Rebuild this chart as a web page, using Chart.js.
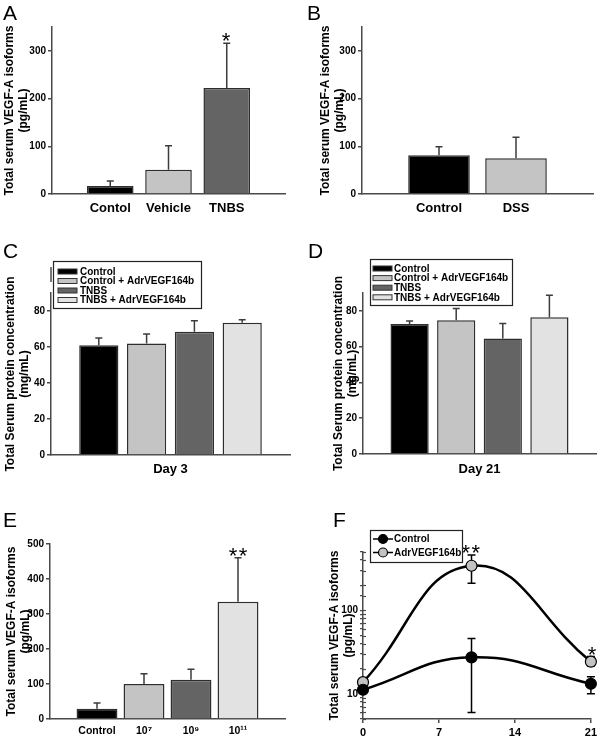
<!DOCTYPE html>
<html><head><meta charset="utf-8">
<script src="https://cdn.jsdelivr.net/npm/chart.js@4.4.1/dist/chart.umd.min.js"></script>
<style>
html,body{margin:0;padding:0;background:#fff;}
#wrap{position:relative;width:600px;height:738px;overflow:hidden;background:#fff;}
canvas{position:absolute;left:0;top:0;}
.lbl{position:absolute;font:21px "Liberation Sans",Arial,Helvetica,sans-serif;color:#000;line-height:21px;}
</style></head><body>
<div id="wrap">
<canvas id="cA" width="600" height="738"></canvas>
<canvas id="cB" width="600" height="738"></canvas>
<canvas id="cC" width="600" height="738"></canvas>
<canvas id="cD" width="600" height="738"></canvas>
<canvas id="cE" width="600" height="738"></canvas>
<canvas id="cF" width="600" height="738"></canvas>
<div class="lbl" style="left:3px;top:2px">A</div>
<div class="lbl" style="left:307px;top:2px">B</div>
<div class="lbl" style="left:3px;top:240px">C</div>
<div class="lbl" style="left:308px;top:240px">D</div>
<div class="lbl" style="left:3px;top:509px">E</div>
<div class="lbl" style="left:333px;top:509px">F</div>
</div>
<script>
// ---------------- DATA ----------------
// Panel A
const A_categories = ['Contol', 'Vehicle', 'TNBS'];
const A_values = [17, 51, 222];
const A_errors = [10, 50, 94];
const A_signif = ['', '', '*'];
const A_yTicks = [0, 100, 200, 300];
// Panel B
const B_categories = ['Control', 'DSS'];
const B_values = [81, 75];
const B_errors = [18, 44];
const B_yTicks = [0, 100, 200, 300];
// Panel C (Day 3)
const C_groups = ['Control', 'Control + AdrVEGF164b', 'TNBS', 'TNBS + AdrVEGF164b'];
const C_values = [61, 62, 68.5, 73.5];
const C_errors = [4, 5.2, 6.1, 1.7];
const C_yTicks = [0, 20, 40, 60, 80];
// Panel D (Day 21)
const D_groups = ['Control', 'Control + AdrVEGF164b', 'TNBS', 'TNBS + AdrVEGF164b'];
const D_values = [72.7, 74.8, 64.6, 76.5];
const D_errors = [1.7, 6.5, 8.3, 12.2];
const D_yTicks = [0, 20, 40, 60, 80];
// Panel E
const E_categories = ['Control', '10\u2077', '10\u2079', '10\u00B9\u00B9'];
const E_values = [29, 100, 112, 335];
const E_errors = [17, 29, 30, 126];
const E_signif = ['', '', '', '**'];
const E_yTicks = [0, 100, 200, 300, 400, 500];
// Panel F
const F_days = [0, 10, 21];
const F_series = ['Control', 'AdrVEGF164b'];
const F_control = [11.2, 27.4, 13.2];
const F_control_low = [null, 6, 10];
const F_control_high = [null, 46, 16];
const F_adr = [13.8, 342, 24.3];
const F_adr_low = [null, 211, 21.5];
const F_adr_high = [null, 460, 28];
const F_adr_signif = ['', '**', '*'];
const F_xTicks = [0, 7, 14, 21];
const F_yLabels = [10, 100];

// ---------------- STYLE ----------------
const FF = '"Liberation Sans", Arial, Helvetica, sans-serif';
const AX = '#4a4a4a';
const BLACK = '#000000', LGRAY = '#c4c4c4', DGRAY = '#646464', XLGRAY = '#e2e2e2';
Chart.defaults.font.family = FF;
const VEGF_TITLE = ['Total serum VEGF-A isoforms', '(pg/mL)'];
const PROT_TITLE = ['Total Serum protein concentration', '(mg/mL)'];

function barErrorPlugin(cfg) {
  return {
    id: 'barErr',
    afterDatasetsDraw(chart) {
      const ctx = chart.ctx, ys = chart.scales.y, meta = chart.getDatasetMeta(0);
      ctx.save();
      ctx.strokeStyle = '#3c3c3c'; ctx.lineWidth = 1.5;
      cfg.values.forEach((v, i) => {
        const el = meta.data[i + 1]; if (!el) return;
        const top = ys.getPixelForValue(v + cfg.errors[i]);
        const x = el.x;
        ctx.beginPath();
        ctx.moveTo(x, el.y); ctx.lineTo(x, top);
        ctx.moveTo(x - 3.5, top); ctx.lineTo(x + 3.5, top);
        ctx.stroke();
        const s = cfg.signif && cfg.signif[i];
        if (s) {
          ctx.fillStyle = '#000'; ctx.font = '22px ' + FF;
          ctx.textAlign = 'center'; ctx.textBaseline = 'alphabetic';
          try { ctx.letterSpacing = '1.5px'; } catch (e) {}
          ctx.fillText(s, x + (s.length > 1 ? 0.75 : 0), top + 5);
        }
      });
      if (cfg.axisBreak) {
        const x = chart.chartArea.left;
        ctx.strokeStyle = AX; ctx.lineWidth = 1.5;
        ctx.beginPath(); ctx.moveTo(x, chart.chartArea.top - 26); ctx.lineTo(x, chart.chartArea.top - 11); ctx.stroke();
      }
      ctx.restore();
    }
  };
}

function boxLegendPlugin(L) {
  return {
    id: 'boxLegend',
    afterDraw(chart) {
      const ctx = chart.ctx;
      ctx.save();
      ctx.fillStyle = '#fff'; ctx.fillRect(L.x, L.y, L.w, L.h);
      ctx.strokeStyle = '#222'; ctx.lineWidth = 1.2; ctx.strokeRect(L.x + 0.5, L.y + 0.5, L.w, L.h);
      ctx.font = 'bold ' + L.size + 'px ' + FF; ctx.textBaseline = 'middle'; ctx.textAlign = 'left';
      L.items.forEach((it, i) => {
        const cy = L.y + L.first + i * L.row;
        if (L.kind === 'bar') {
          ctx.fillStyle = it.color; ctx.fillRect(L.x + L.sx, cy - 2.5, L.sw, 5);
          ctx.strokeStyle = '#333'; ctx.lineWidth = 1; ctx.strokeRect(L.x + L.sx, cy - 2.5, L.sw, 5);
        } else {
          ctx.strokeStyle = '#000'; ctx.lineWidth = 1.5;
          ctx.beginPath(); ctx.moveTo(L.x + L.sx, cy); ctx.lineTo(L.x + L.sx + L.sw, cy); ctx.stroke();
          ctx.beginPath(); ctx.arc(L.x + L.sx + L.sw / 2, cy, 4.5, 0, Math.PI * 2);
          ctx.fillStyle = it.color; ctx.fill(); ctx.lineWidth = 1.2; ctx.stroke();
        }
        ctx.fillStyle = '#000'; ctx.fillText(it.label, L.x + L.tx, cy + 0.5);
      });
      ctx.restore();
    }
  };
}

function barPanel(id, cfg) {
  const labels = ['', ...cfg.labels, ''];
  const data = [null, ...cfg.values, null];
  const colors = ['rgba(0,0,0,0)', ...cfg.colors, 'rgba(0,0,0,0)'];
  const plugins = [barErrorPlugin(cfg)];
  if (cfg.legend) plugins.push(boxLegendPlugin(cfg.legend));
  return new Chart(document.getElementById(id), {
    type: 'bar',
    data: { labels, datasets: [{ data, backgroundColor: colors, borderColor: '#2e2e2e', borderWidth: 1.5,
      categoryPercentage: 1, barPercentage: cfg.barPct }] },
    options: {
      responsive: false, maintainAspectRatio: false, animation: false, devicePixelRatio: 1, events: [],
      layout: { padding: { left: cfg.scaleLeft, top: cfg.area.t, right: 600 - cfg.area.r, bottom: 738 - cfg.area.b - cfg.xH } },
      plugins: { legend: { display: false }, tooltip: { enabled: false } },
      scales: {
        x: {
          type: 'category', offset: false,
          grid: { display: false, drawTicks: false },
          border: { display: true, color: AX, width: 1.5 },
          ticks: { display: cfg.showLabels, autoSkip: false, maxRotation: 0, minRotation: 0, padding: cfg.xPad,
            color: '#000', font: { family: FF, weight: 'bold', size: cfg.catSize } },
          title: cfg.xTitle ? { display: true, text: cfg.xTitle, color: '#000',
            font: { family: FF, weight: 'bold', size: 13 }, padding: { top: 0, bottom: 0 } } : { display: false },
          afterFit: s => { s.height = cfg.xH; }
        },
        y: {
          type: 'linear', min: 0, max: cfg.yMax,
          afterBuildTicks: s => { s.ticks = cfg.yTicks.map(v => ({ value: v })); },
          ticks: { padding: 2, color: '#000', font: { family: FF, weight: 'bold', size: 10 } },
          grid: { drawOnChartArea: false, drawTicks: true, tickLength: 4, color: AX, lineWidth: 1.5 },
          border: { display: true, color: AX, width: 1.5 },
          title: { display: true, text: cfg.yTitle, color: '#000',
            font: { family: FF, weight: 'bold', size: 12, lineHeight: '14.5px' }, padding: { top: cfg.titlePad, bottom: 0 } },
          afterFit: s => { s.width = cfg.area.l - cfg.scaleLeft; }
        }
      }
    },
    plugins
  });
}

// Panel A
barPanel('cA', { labels: A_categories, values: A_values, errors: A_errors, signif: A_signif,
  colors: [BLACK, LGRAY, DGRAY], yMax: 350, yTicks: A_yTicks, yTitle: VEGF_TITLE,
  area: { l: 52, t: 27, r: 285, b: 194 }, scaleLeft: 0, titlePad: 2, xH: 40, xPad: 7, catSize: 13,
  showLabels: true, barPct: 0.8 });
// Panel B
barPanel('cB', { labels: B_categories, values: B_values, errors: B_errors,
  colors: [BLACK, LGRAY], yMax: 350, yTicks: B_yTicks, yTitle: VEGF_TITLE,
  area: { l: 362, t: 27, r: 597, b: 194 }, scaleLeft: 310, titlePad: 8, xH: 40, xPad: 7, catSize: 13,
  showLabels: true, barPct: 0.8 });
// Panel C
barPanel('cC', { labels: C_groups, values: C_values, errors: C_errors,
  colors: [BLACK, LGRAY, DGRAY, XLGRAY], yMax: 90, yTicks: C_yTicks, yTitle: PROT_TITLE, xTitle: 'Day 3',
  area: { l: 51, t: 293, r: 290, b: 455 }, scaleLeft: 0, titlePad: 3, xH: 22, xPad: 0, catSize: 11,
  showLabels: false, barPct: 0.82, axisBreak: true,
  legend: { x: 53, y: 261, w: 148, h: 47, first: 10.5, row: 9.5, sx: 5, sw: 19, tx: 27, size: 10, kind: 'bar',
    items: C_groups.map((g, i) => ({ label: g, color: [BLACK, LGRAY, DGRAY, XLGRAY][i] })) } });
// Panel D
barPanel('cD', { labels: D_groups, values: D_values, errors: D_errors,
  colors: [BLACK, LGRAY, DGRAY, XLGRAY], yMax: 90, yTicks: D_yTicks, yTitle: PROT_TITLE, xTitle: 'Day 21',
  area: { l: 363, t: 293, r: 596, b: 454 }, scaleLeft: 310, titlePad: 21, xH: 23, xPad: 0, catSize: 11,
  showLabels: false, barPct: 0.82,
  legend: { x: 370, y: 259, w: 142, h: 46, first: 9.5, row: 9.6, sx: 3, sw: 19, tx: 24, size: 10, kind: 'bar',
    items: D_groups.map((g, i) => ({ label: g, color: [BLACK, LGRAY, DGRAY, XLGRAY][i] })) } });
// Panel E
barPanel('cE', { labels: E_categories, values: E_values, errors: E_errors, signif: E_signif,
  colors: [BLACK, LGRAY, DGRAY, XLGRAY], yMax: 500, yTicks: E_yTicks, yTitle: VEGF_TITLE,
  area: { l: 50, t: 544, r: 285, b: 719 }, scaleLeft: 0, titlePad: 4, xH: 19, xPad: 6, catSize: 10.5,
  showLabels: true, barPct: 0.87 });

// Panel F
function lineErrorPlugin(sets) {
  return {
    id: 'lineErr',
    beforeDatasetsDraw(chart) {
      const ctx = chart.ctx, ys = chart.scales.y;
      ctx.save(); ctx.strokeStyle = '#000'; ctx.lineWidth = 1.5;
      sets.forEach(st => {
        const meta = chart.getDatasetMeta(st.ds);
        st.low.forEach((lo, i) => {
          const hi = st.high[i]; if (lo == null || hi == null) return;
          const x = meta.data[i].x, y1 = ys.getPixelForValue(lo), y2 = ys.getPixelForValue(hi);
          ctx.beginPath();
          ctx.moveTo(x, y1); ctx.lineTo(x, y2);
          ctx.moveTo(x - 4, y1); ctx.lineTo(x + 4, y1);
          ctx.moveTo(x - 4, y2); ctx.lineTo(x + 4, y2);
          ctx.stroke();
        });
      });
      // inner halves of the y-axis tick marks (ticks cross the axis)
      ctx.strokeStyle = AX; ctx.lineWidth = 1.2;
      const left = chart.chartArea.left;
      ys.ticks.forEach(t => {
        const y = Math.round(ys.getPixelForValue(t.value)) + 0.5;
        ctx.beginPath(); ctx.moveTo(left, y); ctx.lineTo(left + 3, y); ctx.stroke();
      });
      ctx.restore();
    },
    afterDatasetsDraw(chart) {
      const ctx = chart.ctx, ys = chart.scales.y;
      ctx.save(); ctx.fillStyle = '#000'; ctx.font = '22px ' + FF; ctx.textAlign = 'center';
      try { ctx.letterSpacing = '1.5px'; } catch (e) {}
      sets.forEach(st => {
        if (!st.signif) return;
        const meta = chart.getDatasetMeta(st.ds);
        st.signif.forEach((s, i) => {
          if (!s) return;
          const x = meta.data[i].x, top = ys.getPixelForValue(st.high[i]);
          ctx.fillText(s, x + (s.length > 1 ? 0 : 2), top + 5);
        });
      });
      ctx.restore();
    }
  };
}

new Chart(document.getElementById('cF'), {
  type: 'line',
  data: { datasets: [
    { label: F_series[0], data: F_days.map((d, i) => ({ x: d, y: F_control[i] })), borderColor: '#000', borderWidth: 2.5,
      pointRadius: 5.5, pointBackgroundColor: '#000', pointBorderColor: '#000', pointBorderWidth: 1.2,
      tension: 0.45, clip: false, fill: false },
    { label: F_series[1], data: F_days.map((d, i) => ({ x: d, y: F_adr[i] })), borderColor: '#000', borderWidth: 2.5,
      pointRadius: 5.5, pointBackgroundColor: '#c2c2c2', pointBorderColor: '#000', pointBorderWidth: 1.2,
      tension: 0.45, clip: false, fill: false }
  ] },
  options: {
    responsive: false, maintainAspectRatio: false, animation: false, devicePixelRatio: 1, events: [],
    layout: { padding: { left: 310, top: 552, right: 7, bottom: 0 } },
    plugins: { legend: { display: false }, tooltip: { enabled: false } },
    scales: {
      x: {
        type: 'linear', min: 0, max: 21,
        afterBuildTicks: s => { s.ticks = F_xTicks.map(v => ({ value: v })); },
        grid: { drawOnChartArea: false, drawTicks: true, tickLength: 4, color: AX, lineWidth: 1.5 },
        border: { display: true, color: AX, width: 1.5 },
        ticks: { padding: 3, color: '#000', font: { family: FF, weight: 'bold', size: 11 } },
        afterFit: s => { s.height = 19; }
      },
      y: {
        type: 'logarithmic', min: 5, max: 500,
        ticks: { autoSkip: false, padding: 2, color: '#000', font: { family: FF, weight: 'bold', size: 10 },
          callback: v => F_yLabels.includes(v) ? String(v) : '' },
        grid: { drawOnChartArea: false, drawTicks: true, tickLength: 3, color: AX, lineWidth: 1.2 },
        border: { display: true, color: AX, width: 1.5 },
        title: { display: true, text: VEGF_TITLE, color: '#000',
          font: { family: FF, weight: 'bold', size: 12, lineHeight: '14.5px' }, padding: { top: 17, bottom: 0 } },
        afterFit: s => { s.width = 363 - 310; }
      }
    }
  },
  plugins: [lineErrorPlugin([
    { ds: 0, low: F_control_low, high: F_control_high },
    { ds: 1, low: F_adr_low, high: F_adr_high, signif: F_adr_signif }
  ]), boxLegendPlugin({ x: 370, y: 530, w: 92, h: 32, first: 9, row: 13.5, sx: 3, sw: 20, tx: 24, size: 10, kind: 'line',
    items: F_series.map((s, i) => ({ label: s, color: ['#000', '#c2c2c2'][i] })) })]
});
</script>
</body></html>
